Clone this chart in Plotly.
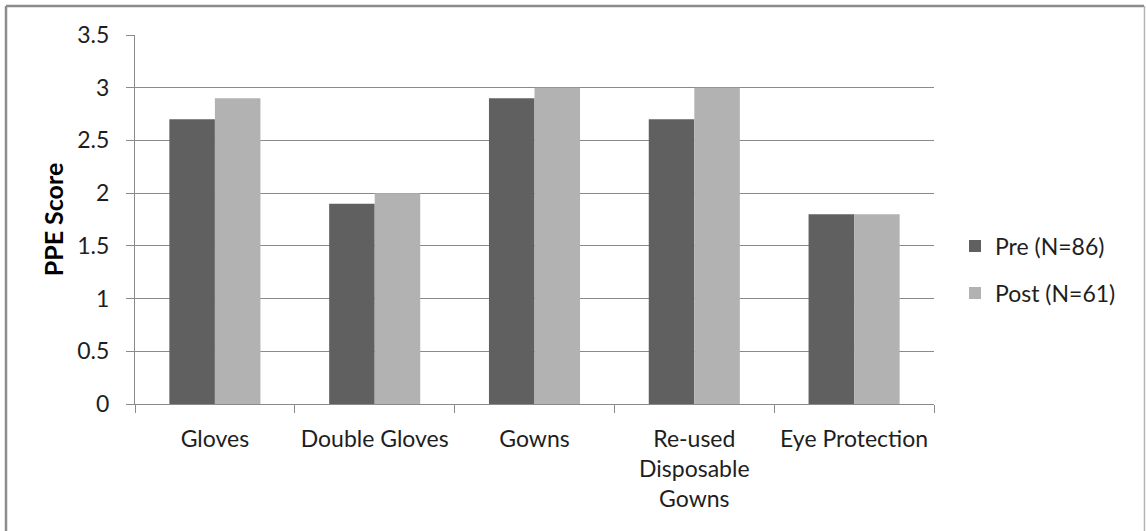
import plotly.graph_objects as go

# PPE scores before and after the intervention
categories = ["Gloves", "Double Gloves", "Gowns", "Re-used Disposable Gowns", "Eye Protection"]
tick_labels = ["Gloves", "Double Gloves", "Gowns", "Re-used<br>Disposable<br>Gowns", "Eye Protection"]
pre_scores = [2.7, 1.9, 2.9, 2.7, 1.8]
post_scores = [2.9, 2.0, 3.0, 3.0, 1.8]
series_names = ["Pre (N=86)", "Post (N=61)"]
y_ticks = [0, 0.5, 1, 1.5, 2, 2.5, 3, 3.5]

W, H = 1146, 531
L, R, T, B = 135, 212, 35, 127
PW = W - L - R
PH = H - T - B

FONT = "Lato, Carlito, Calibri, sans-serif"
FS = 23
TEXT = "#1e1e1e"
GRID = "#8a8a8a"

fig = go.Figure()
fig.add_trace(go.Bar(x=categories, y=pre_scores, name=series_names[0], legend="legend",
                     marker=dict(color="#606060", line=dict(width=0))))
fig.add_trace(go.Bar(x=categories, y=post_scores, name=series_names[1], legend="legend2",
                     marker=dict(color="#b2b2b2", line=dict(width=0))))


def px_x(v):
    return (v - L) / PW


def px_y(v):
    return 1 - (v - T) / PH


# outer chart frame
frame = [
    dict(x0=px_x(6), x1=px_x(1144), y0=px_y(6), y1=px_y(6), color="#8c8c8c", w=2.5),
    dict(x0=px_x(6), x1=px_x(6), y0=px_y(6), y1=px_y(535), color="#8c8c8c", w=2.5),
    dict(x0=px_x(1144.5), x1=px_x(1144.5), y0=px_y(6), y1=px_y(535), color="#b4b4b4", w=1.5),
]
shapes = [dict(type="line", xref="paper", yref="paper", x0=f["x0"], x1=f["x1"],
               y0=f["y0"], y1=f["y1"], line=dict(color=f["color"], width=f["w"]))
          for f in frame]


def legend_box(center_y):
    return dict(x=px_x(955), y=px_y(center_y), xanchor="left", yanchor="middle",
                font=dict(family=FONT, size=FS, color=TEXT),
                bgcolor="rgba(0,0,0,0)", itemclick=False, borderwidth=0)


fig.update_layout(
    width=W, height=H,
    margin=dict(l=L, r=R, t=T, b=B, autoexpand=False),
    paper_bgcolor="white", plot_bgcolor="white",
    barmode="group", bargap=0.43, bargroupgap=0,
    font=dict(family=FONT, size=FS, color=TEXT),
    showlegend=True,
    legend=legend_box(246),
    legend2=legend_box(293),
    shapes=shapes,
)

fig.update_xaxes(
    type="category", tickmode="array", tickvals=categories, ticktext=tick_labels,
    showline=True, linecolor=GRID, linewidth=1.2,
    ticks="outside", tickson="boundaries", ticklen=8, tickcolor=GRID, tickwidth=1.2,
    tickfont=dict(family=FONT, size=FS, color=TEXT),
    ticklabelstandoff=14,
    showgrid=False, zeroline=False, fixedrange=True, tickangle=0,
)
fig.update_yaxes(
    range=[0, 3.5], tickmode="array", tickvals=y_ticks,
    ticktext=[f"{v:g}" for v in y_ticks],
    showline=True, linecolor=GRID, linewidth=1.2,
    ticks="outside", ticklen=8, tickcolor=GRID, tickwidth=1.2,
    showgrid=True, gridcolor=GRID, gridwidth=1.2, zeroline=False,
    tickfont=dict(family=FONT, size=FS, color=TEXT),
    ticklabelstandoff=12,
    title=dict(text="<b>PPE Score</b>", font=dict(family=FONT, size=25, color="#000"),
               standoff=6),
    fixedrange=True,
)

fig.write_html("out.html", config={"displayModeBar": False})
